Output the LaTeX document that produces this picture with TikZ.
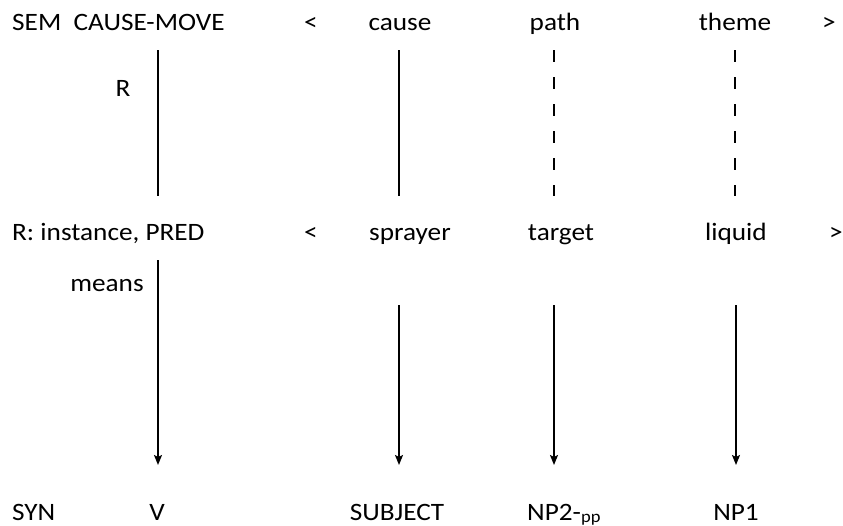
\documentclass[tikz,border=0pt]{standalone}
\usepackage{fontspec}
\setmainfont{Carlito}[FakeStretch=1.09]
\usetikzlibrary{arrows.meta}
\begin{document}
\begin{tikzpicture}[x=1pt,y=-1pt,
  lbl/.style={inner sep=0pt,font=\fontsize{25}{30}\selectfont},
  lw/.style={lbl,anchor=base west},
  lc/.style={lbl,anchor=base},
  link/.style={line width=1.4pt},
  dlink/.style={line width=1.4pt,dash pattern=on 12pt off 15pt},
  arr/.style={line width=1.6pt,-{Stealth[length=10pt,width=8pt,inset=2pt]}}]
\useasboundingbox (0,0) rectangle (843,525);
% row 1
\node[lw] (sem) at (12,30) {SEM\ \ CAUSE-MOVE};
\node[lc] (lt1) at (311,30) {<};
\node[lc] (cause) at (400,30) {cause};
\node[lc] (path) at (555,30) {path};
\node[lc] (theme) at (735,30) {theme};
\node[lc] (gt1) at (829,30) {>};
\node[lc] (r) at (123,96) {R};
% row 2
\node[lw] (inst) at (12,240) {R: instance, PRED};
\node[lc] (lt2) at (311,240) {<};
\node[lc] (sprayer) at (410,240) {sprayer};
\node[lc] (target) at (561,240) {target};
\node[lc] (liquid) at (736,240) {liquid};
\node[lc] (gt2) at (836,240) {>};
\node[lc] (means) at (107,291) {means};
% row 3
\node[lw] (syn) at (12,520) {SYN};
\node[lc] (v) at (157,520) {V};
\node[lc] (subj) at (397,520) {SUBJECT};
\node[lw] (np2) at (527,520) {NP2-\raisebox{-2pt}{\fontsize{17}{20}\selectfont pp}};
\node[lc] (np1) at (736,520) {NP1};
% coordinates
\coordinate (c1t) at (158,50);  \coordinate (c1b) at (158,196);
\coordinate (c2t) at (399,50);  \coordinate (c2b) at (399,196);
\coordinate (c3t) at (554,50);  \coordinate (c3b) at (554,196);
\coordinate (c4t) at (735,50);  \coordinate (c4b) at (735,196);
\coordinate (a1t) at (158,260); \coordinate (a1b) at (158,465);
\coordinate (a2t) at (399,305); \coordinate (a2b) at (399,465);
\coordinate (a3t) at (554,305); \coordinate (a3b) at (554,465);
\coordinate (a4t) at (736,305); \coordinate (a4b) at (736,465);
% connectors
\draw[link] (c1t) -- (c1b);
\draw[link] (c2t) -- (c2b);
\draw[dlink] (c3t) -- (c3b);
\draw[dlink] (c4t) -- (c4b);
\draw[arr] (a1t) -- (a1b);
\draw[arr] (a2t) -- (a2b);
\draw[arr] (a3t) -- (a3b);
\draw[arr] (a4t) -- (a4b);
\end{tikzpicture}
\end{document}
